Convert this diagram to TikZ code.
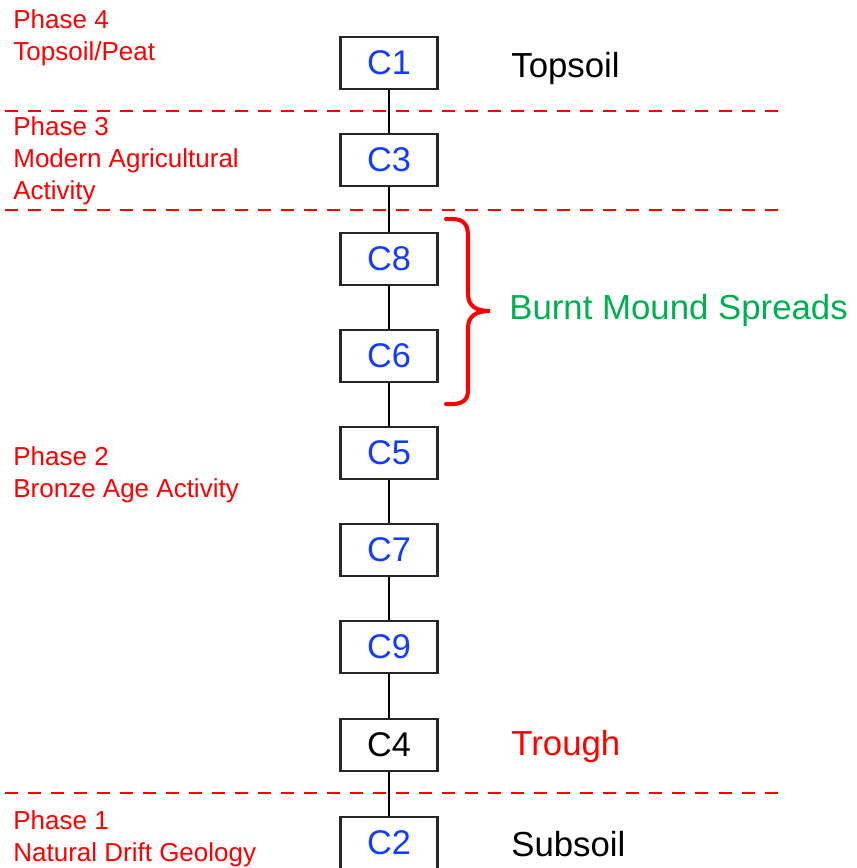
\documentclass[tikz,border=0pt]{standalone}
\usepackage{fontspec}
\setmainfont{Liberation Sans}
\usepackage{tikz}
\usetikzlibrary{calc}
\definecolor{ctxblue}{RGB}{20,60,255}
\definecolor{phasered}{RGB}{255,0,0}
\definecolor{mound}{RGB}{0,176,80}
\tikzstyle{context} = [rectangle, draw=black!85, line width=1.3pt, fill=white, minimum width=1.94cm, minimum height=1.03cm, inner sep=0pt, font=\fontsize{19.5}{22}\selectfont, text=ctxblue]
\tikzstyle{phase} = [anchor=north west, align=left, inner sep=0pt, text=phasered, font=\fontsize{14.8}{18.2}\selectfont]
\tikzstyle{layer} = [anchor=west, inner sep=0pt, font=\fontsize{19.8}{22}\selectfont]
\tikzstyle{boundary} = [draw=phasered, dash pattern=on 7.4pt off 5.7pt, line width=0.7pt]

\begin{document}
\begin{tikzpicture}[x=0.02cm, y=-0.02cm]
        \useasboundingbox (0, 0) rectangle (856, 868);
        \clip (0, 0) rectangle (856, 868);

        % phase boundaries
        \draw[boundary] (5, 111) -- (778, 111);
        \draw[boundary] (5, 210) -- (778, 210);
        \draw[boundary] (5, 793) -- (778, 793);

        % stratigraphic contexts
        \node[context] (C1) at (389, 63) {C1};
        \node[context] (C3) at (389, 160) {C3};
        \node[context] (C8) at (389, 259) {C8};
        \node[context] (C6) at (389, 356) {C6};
        \node[context] (C5) at (389, 453) {C5};
        \node[context] (C7) at (389, 550) {C7};
        \node[context] (C9) at (389, 647) {C9};
        \node[context, text=black] (C4) at (389, 745) {C4};
        \node[context] (C2) at (389, 843) {C2};

        \draw[line width=0.9pt] (C1) -- (C3) -- (C8) -- (C6) -- (C5) -- (C7) -- (C9) -- (C4) -- (C2);

        % phase labels
        \node[phase] (P4) at (13, 9) {Phase 4\\Topsoil/Peat};
        \node[phase] (P3) at (13, 116) {Phase 3\\Modern Agricultural\\Activity};
        \node[phase] (P2) at (13, 446) {Phase 2\\Bronze Age Activity};
        \node[phase] (P1) at (13, 810) {Phase 1\\Natural Drift Geology};

        % layer labels
        \node[layer] (topsoil) at (511, 69) {Topsoil};
        \node[layer, text=mound] (spreads) at (509, 311) {Burnt Mound Spreads};
        \node[layer, text=phasered] (trough) at (511, 746) {Trough};
        \node[layer] (subsoil) at (511, 844) {Subsoil};

        % brace round the spreads
        \draw[phasered, line width=2.3pt, line cap=round] (446, 219) .. controls (462, 218) and (468, 222) .. (468, 236) -- (468, 294)
            .. controls (468, 306) and (476, 311) .. (490, 311) .. controls (476, 311) and (468, 316) .. (468, 328) -- (468, 390)
            .. controls (468, 401) and (462, 405) .. (446, 404);
        
    \end{tikzpicture}
\end{document}
